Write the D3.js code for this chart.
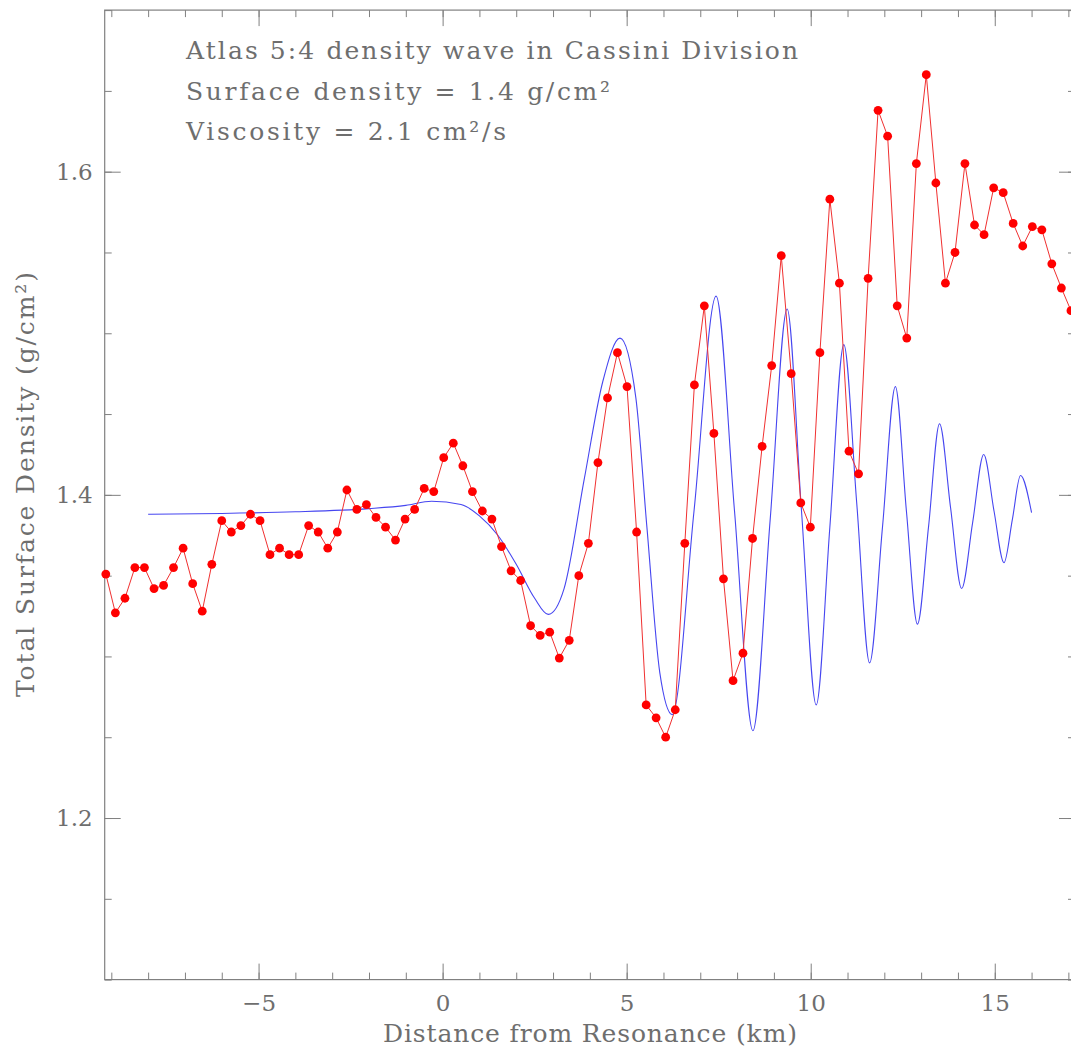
<!DOCTYPE html>
<html>
<head>
<meta charset="utf-8">
<script src="https://cdn.jsdelivr.net/npm/d3@7"></script>
<style>
  body { margin: 0; background: #fff; }
  text { font-family: "DejaVu Serif", serif; fill: #6e6e6e; }
</style>
</head>
<body>
<svg id="chart" width="1071" height="1048"></svg>
<script>
'use strict';

// measured points (red)
var redX = [-9.15, -8.89, -8.63, -8.36, -8.10, -7.84, -7.58, -7.31, -7.05, -6.79,
  -6.53, -6.27, -6.00, -5.74, -5.48, -5.22, -4.96, -4.69, -4.43, -4.17,
  -3.91, -3.64, -3.38, -3.12, -2.86, -2.60, -2.33, -2.07, -1.81, -1.55,
  -1.28, -1.02, -0.76, -0.50, -0.24, 0.03, 0.29, 0.55, 0.81, 1.08,
  1.34, 1.60, 1.86, 2.12, 2.39, 2.65, 2.91, 3.17, 3.44, 3.70,
  3.96, 4.22, 4.48, 4.75, 5.01, 5.27, 5.53, 5.80, 6.06, 6.32,
  6.58, 6.84, 7.11, 7.37, 7.63, 7.89, 8.16, 8.42, 8.68, 8.94,
  9.20, 9.47, 9.73, 9.99, 10.25, 10.52, 10.78, 11.04, 11.30, 11.56,
  11.83, 12.09, 12.35, 12.61, 12.87, 13.14, 13.40, 13.66, 13.92, 14.19,
  14.45, 14.71, 14.97, 15.23, 15.50, 15.76, 16.02, 16.28, 16.55, 16.81, 17.07];
var redY = [1.351, 1.327, 1.336, 1.355, 1.355, 1.342, 1.344, 1.355, 1.367, 1.345,
  1.328, 1.357, 1.384, 1.377, 1.381, 1.388, 1.384, 1.363, 1.367, 1.363,
  1.363, 1.381, 1.377, 1.367, 1.377, 1.403, 1.391, 1.394, 1.386, 1.380,
  1.372, 1.385, 1.391, 1.404, 1.402, 1.423, 1.432, 1.418, 1.402, 1.390,
  1.385, 1.368, 1.353, 1.347, 1.319, 1.313, 1.315, 1.299, 1.310, 1.350,
  1.370, 1.420, 1.460, 1.488, 1.467, 1.377, 1.270, 1.262, 1.250, 1.267,
  1.370, 1.468, 1.517, 1.438, 1.348, 1.285, 1.302, 1.373, 1.430, 1.480,
  1.548, 1.475, 1.395, 1.380, 1.488, 1.583, 1.531, 1.427, 1.413, 1.534,
  1.638, 1.622, 1.517, 1.497, 1.605, 1.660, 1.593, 1.531, 1.550, 1.605,
  1.567, 1.561, 1.590, 1.587, 1.568, 1.554, 1.566, 1.564, 1.543, 1.528, 1.514];

// model curve (blue), read at extrema and between them
var blueX = [-8, -6, -4, -2, -1, -0.3, 0.5, 1.0, 1.5, 2.0, 2.5, 2.87, 3.3, 3.85, 4.35, 4.82,
  5.25, 5.55, 5.9, 6.24, 6.83, 7.43, 7.93, 8.43, 8.9, 9.36, 9.75, 10.15, 10.52, 10.9,
  11.25, 11.6, 11.95, 12.3, 12.6, 12.9, 13.2, 13.5, 13.8, 14.1, 14.4, 14.7, 14.98, 15.25,
  15.48, 15.7, 16.0];
var blueY = [1.388, 1.3885, 1.3895, 1.3915, 1.3935, 1.396, 1.394, 1.387, 1.375, 1.357, 1.336, 1.326, 1.342, 1.41, 1.47, 1.497,
  1.46, 1.38, 1.29, 1.264, 1.39, 1.523, 1.39, 1.254, 1.385, 1.515, 1.39, 1.27, 1.38, 1.493,
  1.395, 1.296, 1.38, 1.467, 1.39, 1.32, 1.38, 1.444, 1.392, 1.342, 1.383, 1.425, 1.39, 1.358,
  1.385, 1.412, 1.389];

var xMajor = [-5, 0, 5, 10, 15];
var yMajor = [1.2, 1.4, 1.6];

var titleLines = ["Atlas 5:4 density wave in Cassini Division",
  "Surface density = 1.4 g/cm\u00b2",
  "Viscosity = 2.1 cm\u00b2/s"];
var titleWidths = [612, 424, 320];

var svg = d3.select("#chart");
var x = d3.scaleLinear().domain([-9.18, 17.18]).range([104.7, 1075]);
var y = d3.scaleLinear().domain([1.1, 1.7]).range([979.6, 10.1]);
var axisColor = "#808080";

var styleAxis = function(g) {
  g.select(".domain").remove();
  g.selectAll("line").attr("stroke", axisColor);
  g.selectAll("text").style("font-size", "23px").attr("fill", "#6e6e6e");
};

var minorX = d3.range(-9, 18, 1);
var minorY = d3.range(1.1, 1.7001, 0.05);

// bottom
svg.append("g").attr("transform", "translate(0,979.6)")
  .call(d3.axisBottom(x).tickValues(minorX).tickSize(-7).tickFormat(""))
  .call(styleAxis);
svg.append("g").attr("transform", "translate(0,979.6)")
  .call(d3.axisBottom(x).tickValues(xMajor).tickSize(-16).tickPadding(15).tickFormat(d3.format("d")))
  .call(styleAxis);
// top
svg.append("g").attr("transform", "translate(0,10.1)")
  .call(d3.axisTop(x).tickValues(minorX).tickSize(-7).tickFormat(""))
  .call(styleAxis);
svg.append("g").attr("transform", "translate(0,10.1)")
  .call(d3.axisTop(x).tickValues(xMajor).tickSize(-16).tickFormat(""))
  .call(styleAxis);
// left
svg.append("g").attr("transform", "translate(104.7,0)")
  .call(d3.axisLeft(y).tickValues(minorY).tickSize(-7).tickFormat(""))
  .call(styleAxis);
svg.append("g").attr("transform", "translate(104.7,0)")
  .call(d3.axisLeft(y).tickValues(yMajor).tickSize(-16).tickPadding(12).tickFormat(d3.format(".1f")))
  .call(styleAxis);
// right
svg.append("g").attr("transform", "translate(1075,0)")
  .call(d3.axisRight(y).tickValues(minorY).tickSize(-7).tickFormat(""))
  .call(styleAxis);
svg.append("g").attr("transform", "translate(1075,0)")
  .call(d3.axisRight(y).tickValues(yMajor).tickSize(-16).tickFormat(""))
  .call(styleAxis);

// frame
svg.append("rect")
  .attr("x", 104.7).attr("y", 10.1)
  .attr("width", 1075 - 104.7).attr("height", 979.6 - 10.1)
  .attr("fill", "none").attr("stroke", axisColor).attr("stroke-width", 1.2);

// blue model
var blue = blueX.map(function(d, i) { return [d, blueY[i]]; });
svg.append("path")
  .datum(blue)
  .attr("fill", "none")
  .attr("stroke", "#4646f0")
  .attr("stroke-width", 1.1)
  .attr("d", d3.line().x(function(d) { return x(d[0]); }).y(function(d) { return y(d[1]); }).curve(d3.curveMonotoneX));

// red data
var red = redX.map(function(d, i) { return [d, redY[i]]; });
svg.append("path")
  .datum(red)
  .attr("fill", "none")
  .attr("stroke", "#f03030")
  .attr("stroke-width", 1)
  .attr("d", d3.line().x(function(d) { return x(d[0]); }).y(function(d) { return y(d[1]); }));
svg.selectAll("circle.pt")
  .data(red)
  .enter()
  .append("circle")
  .attr("class", "pt")
  .attr("cx", function(d) { return x(d[0]); })
  .attr("cy", function(d) { return y(d[1]); })
  .attr("r", 4.4)
  .attr("fill", "#ff0000");

// annotation
svg.selectAll("text.title")
  .data(titleLines)
  .enter()
  .append("text")
  .attr("class", "title")
  .attr("x", 186)
  .attr("y", function(d, i) { return 59.3 + i * 40.2; })
  .attr("textLength", function(d, i) { return titleWidths[i]; })
  .attr("lengthAdjust", "spacing")
  .style("font-size", "25px")
  .text(function(d) { return d; });

svg.append("text")
  .attr("x", 383)
  .attr("y", 1042)
  .attr("textLength", 414)
  .attr("lengthAdjust", "spacing")
  .style("font-size", "25px")
  .text("Distance from Resonance (km)");

svg.append("text")
  .attr("transform", "translate(34,697) rotate(-90)")
  .attr("textLength", 425)
  .attr("lengthAdjust", "spacing")
  .style("font-size", "25px")
  .text("Total Surface Density (g/cm\u00b2)");
</script>
</body>
</html>
